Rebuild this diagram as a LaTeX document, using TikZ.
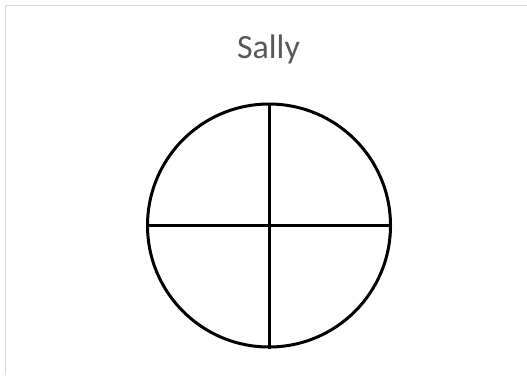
\documentclass[tikz,border=0pt]{standalone}
\usepackage{fontspec}
\setmainfont{Carlito}
\usetikzlibrary{positioning}
\definecolor{framegrey}{HTML}{D9D9D9}
\definecolor{titlegrey}{HTML}{595959}
\tikzset{every picture/.style={line width=0.75pt}}

\begin{document}
\begin{tikzpicture}[x=1pt, y=-1pt,
    quarter/.style={line width=3pt, black},
    title/.style={text=titlegrey, font=\fontsize{34}{40}\selectfont, anchor=base}]
    % page size
    \useasboundingbox (0,0) rectangle (527,375);
    \fill[white] (0,0) rectangle (527,375);

    % frame (top and left edges)
    \coordinate (frametl) at (5.5,5.5);
    \coordinate (frametr) at (527,5.5);
    \coordinate (framebl) at (5.5,375);
    \draw[framegrey, line width=1.8pt] (framebl) -- (frametl) -- (frametr);

    % title
    \node[title] (name) at (268.5,58) {Sally};

    % circle cut in four
    \node[circle, draw, quarter, inner sep=0pt, minimum size=243pt] (pie) at (269,225.5) {};
    \draw[quarter] (pie.north) -- (pie.south);
    \draw[quarter] (pie.west) -- (pie.east);
\end{tikzpicture}
\end{document}
